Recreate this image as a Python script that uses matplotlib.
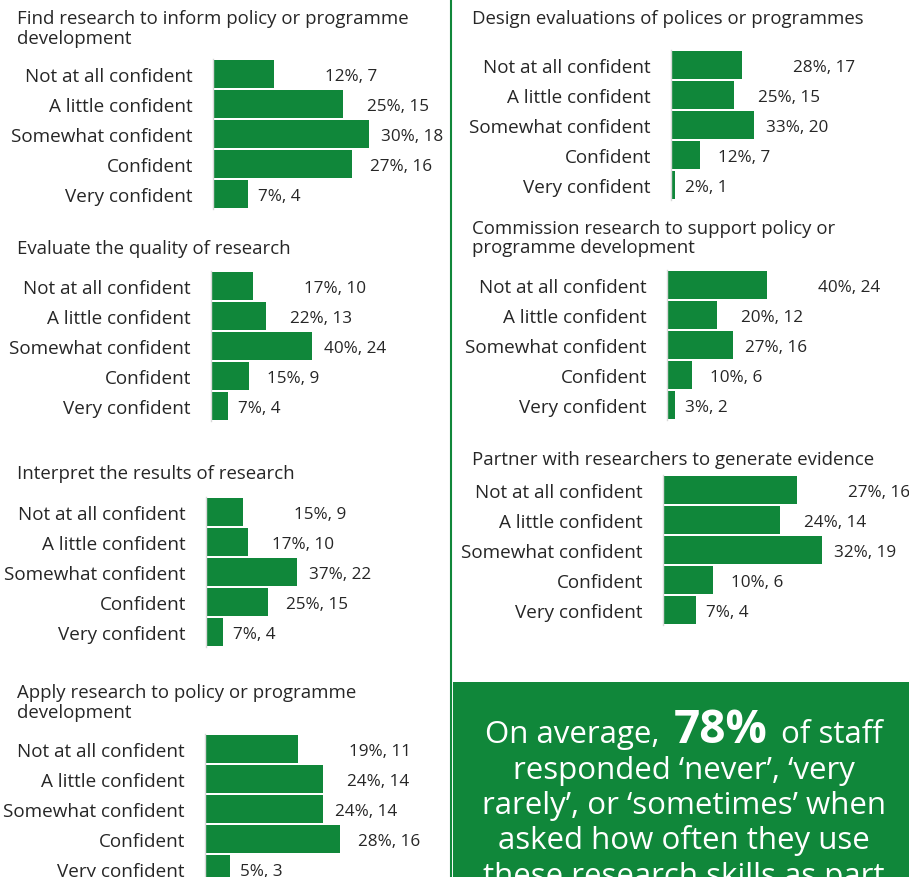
import matplotlib
matplotlib.use('Agg')
import matplotlib.pyplot as plt
from matplotlib.patches import Rectangle

W, H = 909, 878
GREEN = '#10873a'
TEXT = '#262626'
plt.rcParams['font.family'] = ['Open Sans', 'DejaVu Sans']

levels = ['Not at all confident', 'A little confident', 'Somewhat confident',
          'Confident', 'Very confident']

find_pct = [12, 25, 30, 27, 7]
find_n = [7, 15, 18, 16, 4]
evaluate_pct = [17, 22, 40, 15, 7]
evaluate_n = [10, 13, 24, 9, 4]
interpret_pct = [15, 17, 37, 25, 7]
interpret_n = [9, 10, 22, 15, 4]
apply_pct = [19, 24, 24, 28, 5]
apply_n = [11, 14, 14, 16, 3]
design_pct = [28, 25, 33, 12, 2]
design_n = [17, 15, 20, 7, 1]
commission_pct = [40, 20, 27, 10, 3]
commission_n = [24, 12, 16, 6, 2]
partner_pct = [27, 24, 32, 10, 7]
partner_n = [16, 14, 19, 6, 4]

# title lines, pct, n, title x, title baselines, axis x, first bar top, px per respondent
panels = [
    (['Find research to inform policy or programme', 'development'],
     find_pct, find_n, 17, [24, 44], 213, 61, 8.67),
    (['Evaluate the quality of research'],
     evaluate_pct, evaluate_n, 17, [254], 211, 273, 4.2),
    (['Interpret the results of research'],
     interpret_pct, interpret_n, 17, [479], 206, 499, 4.15),
    (['Apply research to policy or programme', 'development'],
     apply_pct, apply_n, 17, [698, 718], 205, 736, 8.43),
    (['Design evaluations of polices or programmes'],
     design_pct, design_n, 472, [24], 671, 52, 4.17),
    (['Commission research to support policy or', 'programme development'],
     commission_pct, commission_n, 472, [234, 253], 667, 272, 4.15),
    (['Partner with researchers to generate evidence'],
     partner_pct, partner_n, 472, [465], 663, 477, 8.36),
]

# the data labels sit at a different gap from the bar end in each row
label_gap_px = [51, 24, 12, 18, 10]

fig = plt.figure(figsize=(W / 100, H / 100), dpi=100)
bg = fig.add_axes([0, 0, 1, 1], zorder=0)
bg.set_xlim(0, W)
bg.set_ylim(H, 0)
bg.axis('off')

# column separator and call-out box
bg.plot([451, 451], [0, H], color=GREEN, lw=1.5, solid_capstyle='butt')
bg.add_patch(Rectangle((453, 683), W - 453, H - 683 + 5, color=GREEN, lw=0))

ax_w = 240
for title, pct, n, tx, tys, axx, top, scale in panels:
    for line, ty in zip(title, tys):
        bg.text(tx, ty, line, fontsize=13.4, color=TEXT, va='baseline', ha='left')
    ax = fig.add_axes([axx / W, 1 - (top - 1 + 150) / H, ax_w / W, 150 / H], zorder=2)
    ax.patch.set_alpha(0)
    ax.barh(range(len(levels)), n, height=0.93, color=GREEN, lw=0)
    ax.set_xlim(0, ax_w / scale)
    ax.set_ylim(len(levels) - 0.5, -0.5)
    ax.set_yticks(range(len(levels)))
    ax.set_yticklabels(levels, fontsize=13.6, color=TEXT)
    ax.tick_params(axis='y', length=0, pad=14.5)
    ax.set_xticks([])
    for s in ['top', 'right', 'bottom']:
        ax.spines[s].set_visible(False)
    ax.spines['left'].set_color('#d9d9d9')
    ax.spines['left'].set_linewidth(1)
    for i, (p, c) in enumerate(zip(pct, n)):
        ax.annotate(f'{p}%, {c}', xy=(c, i), xytext=(label_gap_px[i] * 0.72, -1.5),
                    textcoords='offset points', va='center', ha='left',
                    fontsize=12.3, color=TEXT)

# call-out text
cx = 684
renderer = fig.canvas.get_renderer()
parts = [('On average,', 'normal', 22.5), ('78%', 'bold', 33), ('of staff', 'normal', 22.5)]
gap = 14
objs = []
for s, wt, fs in parts:
    t = bg.text(0, 743, s, fontsize=fs, fontweight=wt, color='white',
                va='baseline', ha='left', zorder=3)
    objs.append(t)
widths = [t.get_window_extent(renderer).width for t in objs]
total = sum(widths) + gap * (len(widths) - 1)
x = cx - total / 2
for t, w in zip(objs, widths):
    t.set_x(x)
    x += w + gap

rest = ['responded \u2018never\u2019, \u2018very',
        'rarely\u2019, or \u2018sometimes\u2019 when',
        'asked how often they use',
        'these research skills as part']
for line, y in zip(rest, [779, 814, 849, 885]):
    bg.text(cx, y, line, fontsize=22.5, color='white', va='baseline', ha='center', zorder=3)

fig.savefig('out.png', dpi=100)
